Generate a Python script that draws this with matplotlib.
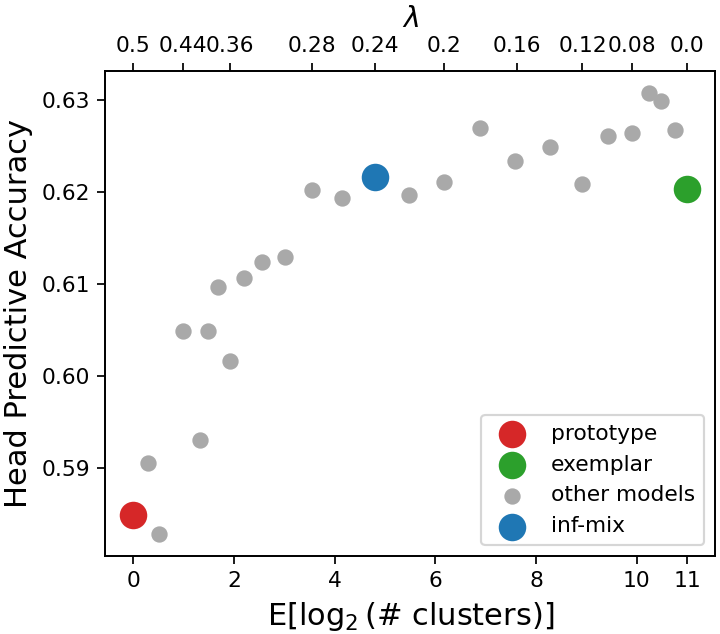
import matplotlib.pyplot as plt

# values
proto_x = [0.0]
proto_y = [0.5850]
exemplar_x = [11.0]
exemplar_y = [0.6203]
infmix_x = [4.80]
infmix_y = [0.6216]

other_x = [0.30, 0.51, 0.99, 1.33, 1.49, 1.69, 1.93, 2.20, 2.56, 3.02,
           3.55, 4.15, 5.47, 6.18, 6.89, 7.59, 8.27, 8.91, 9.43, 9.90,
           10.25, 10.47, 10.75]
other_y = [0.5906, 0.5829, 0.6049, 0.5931, 0.6049, 0.6097, 0.6016, 0.6107,
           0.6124, 0.6129, 0.6202, 0.6193, 0.6197, 0.6211, 0.6269, 0.6233,
           0.6248, 0.6208, 0.6260, 0.6264, 0.6307, 0.6298, 0.6267]

lambda_pos = [0.0, 0.98, 1.92, 3.55, 4.80, 6.18, 7.61, 8.92, 9.90, 11.0]
lambda_labels = ["0.5", "0.44", "0.36", "0.28", "0.24", "0.2", "0.16",
                 "0.12", "0.08", "0.0"]
bottom_ticks = [0, 2, 4, 6, 8, 10, 11]
y_ticks = [0.59, 0.60, 0.61, 0.62, 0.63]

DPI = 157
fig = plt.figure(figsize=(720 / DPI, 634 / DPI), dpi=DPI)
ax = fig.add_axes([0.1465, 0.123, 0.8465, 0.765])

ax.scatter(proto_x, proto_y, s=135, color="tab:red", label="prototype", zorder=3)
ax.scatter(exemplar_x, exemplar_y, s=135, color="tab:green", label="exemplar", zorder=3)
ax.scatter(other_x, other_y, s=42, color="darkgray", label="other models", zorder=2)
ax.scatter(infmix_x, infmix_y, s=135, color="tab:blue", label="inf-mix", zorder=3)

# keep matplotlib's default 5% data margins, just fix them so twiny can copy
ax.margins(0.05)
ax.set_xticks(bottom_ticks)
ax.set_yticks(y_ticks)
ax.set_yticklabels([f"{v:.2f}" for v in y_ticks])
ax.set_xlabel(r"E[$\log_2$(# clusters)]", fontsize=14)
ax.set_ylabel("Head Predictive Accuracy", fontsize=14)

top = ax.twiny()
top.set_xlim(ax.get_xlim())
top.set_xticks(lambda_pos)
top.set_xticklabels(lambda_labels)
top.set_xlabel(r"$\lambda$", fontsize=13)

ax.legend(loc="lower right")

fig.savefig("out.png", dpi=DPI)
